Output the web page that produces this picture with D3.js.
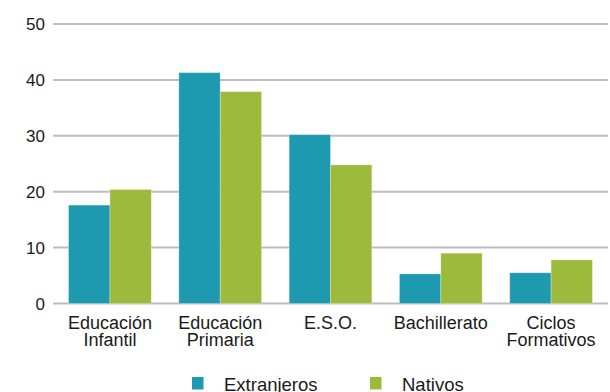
<!DOCTYPE html>
<html>
<head>
<meta charset="utf-8">
<script src="https://cdn.jsdelivr.net/npm/d3@7"></script>
<style>
  body { margin: 0; background: #fff; }
  svg text { font-family: "Liberation Sans", Arial, sans-serif; fill: #1a1a1a; }
</style>
</head>
<body>
<div id="chart"></div>
<script>
const categories = [['Educación', 'Infantil'], ['Educación', 'Primaria'], ['E.S.O.'], ['Bachillerato'], ['Ciclos', 'Formativos']];
const seriesNames = ['Extranjeros', 'Nativos'];
const extranjeros = [17.6, 41.3, 30.2, 5.3, 5.5];
const nativos = [20.4, 37.9, 24.8, 9.0, 7.8];
const yTicks = [0, 10, 20, 30, 40, 50];
const colors = ['#1e9ab0', '#9eba3c'];

const width = 610, height = 392;
const svg = d3.select('#chart').append('svg')
  .attr('width', width).attr('height', height);

const x0 = d3.scaleBand().domain(d3.range(categories.length))
  .range([53, 608]).paddingInner(0.25).paddingOuter(0.141);
const x1 = d3.scaleBand().domain([0, 1]).range([0, x0.bandwidth()]);
const y = d3.scaleLinear().domain([0, 50]).range([303.5, 24]);

// gridlines
svg.append('g').selectAll('line').data(yTicks).join('line')
  .attr('x1', 53).attr('x2', 608)
  .attr('y1', d => y(d)).attr('y2', d => y(d))
  .attr('stroke', '#bdbdc1').attr('stroke-width', 2);

// y labels
svg.append('g').selectAll('text').data(yTicks).join('text')
  .attr('x', 45).attr('y', d => y(d)).attr('dy', '0.36em')
  .attr('text-anchor', 'end').attr('font-size', 17)
  .text(d => d);

const rows = categories.map((c, i) => [extranjeros[i], nativos[i]]);
const groups = svg.append('g').selectAll('g').data(rows).join('g')
  .attr('transform', (d, i) => `translate(${x0(i)},0)`);
groups.selectAll('rect').data(d => d).join('rect')
  .attr('x', (d, j) => x1(j)).attr('width', x1.bandwidth())
  .attr('y', d => y(d)).attr('height', d => y(0) - y(d))
  .attr('fill', (d, j) => colors[j])
  .attr('stroke', 'rgba(255,255,255,0.35)').attr('stroke-width', 0.8);

// category labels
const cat = svg.append('g').selectAll('text').data(categories).join('text')
  .attr('x', (d, i) => x0(i) + x0.bandwidth() / 2)
  .attr('y', 328.7).attr('text-anchor', 'middle').attr('font-size', 18);
cat.selectAll('tspan').data(d => d).join('tspan')
  .attr('x', function() { return d3.select(this.parentNode).attr('x'); })
  .attr('dy', (d, k) => k === 0 ? 0 : 17)
  .text(d => d);

// legend
const legendX = [192, 370];
const legend = svg.append('g').selectAll('g').data(seriesNames).join('g')
  .attr('transform', (d, i) => `translate(${legendX[i]},377)`);
legend.append('rect').attr('width', 11.5).attr('height', 12.5)
  .attr('fill', (d, i) => colors[i]);
legend.append('text').attr('x', 32).attr('y', 13.8).attr('font-size', 18.5)
  .text(d => d);
</script>
</body>
</html>
